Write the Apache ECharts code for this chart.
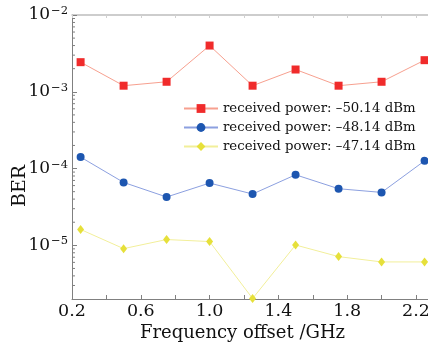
<!DOCTYPE html>
<html>
<head>
<meta charset="utf-8">
<script src="https://cdn.jsdelivr.net/npm/echarts@6/dist/echarts.min.js"></script>
<style>
  html, body { margin: 0; padding: 0; background: #fff; }
  #chart { width: 428px; height: 346px; }
</style>
</head>
<body>
<div id="chart"></div>
<script>
const offsets = [0.25, 0.5, 0.75, 1.0, 1.25, 1.5, 1.75, 2.0, 2.25];
const berP50 = [2.43e-3, 1.2e-3, 1.35e-3, 4.0e-3, 1.2e-3, 1.95e-3, 1.2e-3, 1.35e-3, 2.58e-3];
const berP48 = [1.41e-4, 6.6e-5, 4.26e-5, 6.47e-5, 4.66e-5, 8.3e-5, 5.46e-5, 4.89e-5, 1.26e-4];
const berP47 = [1.61e-5, 9.06e-6, 1.19e-5, 1.12e-5, 2.03e-6, 1.01e-5, 7.13e-6, 6.08e-6, 6.08e-6];
const seriesNames = ['received power: –50.14 dBm', 'received power: –48.14 dBm', 'received power: –47.14 dBm'];
const yMin = 2e-6, yMax = 1e-2;
const xMin = 0.2, xMax = 2.27;

// minor ticks of the log axis: 2..9 x 10^n inside the range
const minorTicks = [];
for (let e = -6; e <= -3; e++) {
  for (let k = 2; k <= 9; k++) {
    const v = k * Math.pow(10, e);
    if (v > yMin && v < yMax) minorTicks.push([xMin, v]);
  }
}

const serif = 'DejaVu Serif';
const axisGray = '#808080';

function pts(vals) { return offsets.map((x, i) => [x, vals[i]]); }

const chart = echarts.init(document.getElementById('chart'), null, { renderer: 'canvas' });
chart.setOption({
  animation: false,
  backgroundColor: '#fff',
  grid: { left: 72, right: 0, top: 15, bottom: 47, outerBoundsMode: 'none' },
  legend: {
    orient: 'vertical', left: 178, top: 96,
    itemWidth: 34, itemHeight: 11, itemGap: 4,
    data: seriesNames,
    textStyle: { fontFamily: serif, fontSize: 13.3, color: '#111', lineHeight: 15 }
  },
  xAxis: [{
    type: 'value', min: xMin, max: xMax, interval: 0.2,
    name: 'Frequency offset /GHz', nameLocation: 'middle', nameGap: 25, nameMoveOverlap: false,
    nameTextStyle: { fontFamily: serif, fontSize: 18, color: '#111', padding: [0, 15, 0, 0] },
    axisLine: { lineStyle: { color: axisGray, width: 1 } },
    axisTick: { inside: true, length: 4, lineStyle: { color: axisGray } },
    axisLabel: {
      fontFamily: serif, fontSize: 17.5, color: '#111', margin: 3,
      formatter: v => (Math.round(v * 10) % 4 === 2 ? v.toFixed(1) : '')
    },
    splitLine: { show: false }
  }, {
    type: 'value', position: 'top', min: xMin, max: xMax, interval: 0.2,
    axisLine: { lineStyle: { color: '#bdbdbd', width: 1.5 } },
    axisTick: { inside: true, length: 3, lineStyle: { color: '#d0d0d0' } },
    axisLabel: { show: false },
    splitLine: { show: false }
  }],
  yAxis: {
    type: 'log', logBase: 10, min: yMin, max: yMax,
    name: 'BER', nameLocation: 'middle', nameGap: 42, nameMoveOverlap: false,
    nameTextStyle: { fontFamily: serif, fontSize: 19, color: '#111', padding: [0, 58, 0, 0] },
    axisLine: { show: true, lineStyle: { color: axisGray, width: 1 } },
    axisTick: { inside: true, length: 5, lineStyle: { color: axisGray } },
    axisLabel: {
      margin: 4, color: '#111',
      formatter: v => {
        const e = Math.log10(v);
        if (Math.abs(e - Math.round(e)) > 1e-6) return '';
        return '{b|10}{s|−' + Math.abs(Math.round(e)) + '}';
      },
      rich: {
        b: { fontFamily: serif, fontSize: 17, color: '#111' },
        s: { fontFamily: serif, fontSize: 11.5, color: '#111', verticalAlign: 'top', padding: [0, 0, 8, 1] }
      }
    },
    splitLine: { show: false }
  },
  series: [{
    name: seriesNames[0], type: 'line', data: pts(berP50),
    symbol: 'rect', symbolSize: 8,
    itemStyle: { color: '#f02b2b' }, lineStyle: { color: '#f7a08f', width: 1 }
  }, {
    name: seriesNames[1], type: 'line', data: pts(berP48),
    symbol: 'circle', symbolSize: 8,
    itemStyle: { color: '#1d56b0' }, lineStyle: { color: '#8ca0e0', width: 1 }
  }, {
    name: seriesNames[2], type: 'line', data: pts(berP47),
    symbol: 'diamond', symbolSize: [7, 9],
    itemStyle: { color: '#e6e03a' }, lineStyle: { color: '#f2ef9a', width: 1 }
  }, {
    type: 'custom', data: minorTicks, silent: true, z: 1,
    renderItem: (params, api) => {
      const p = api.coord([api.value(0), api.value(1)]);
      return {
        type: 'line',
        shape: { x1: p[0], y1: p[1], x2: p[0] + 3, y2: p[1] },
        style: { stroke: axisGray, lineWidth: 1 }
      };
    }
  }]
});
</script>
</body>
</html>
